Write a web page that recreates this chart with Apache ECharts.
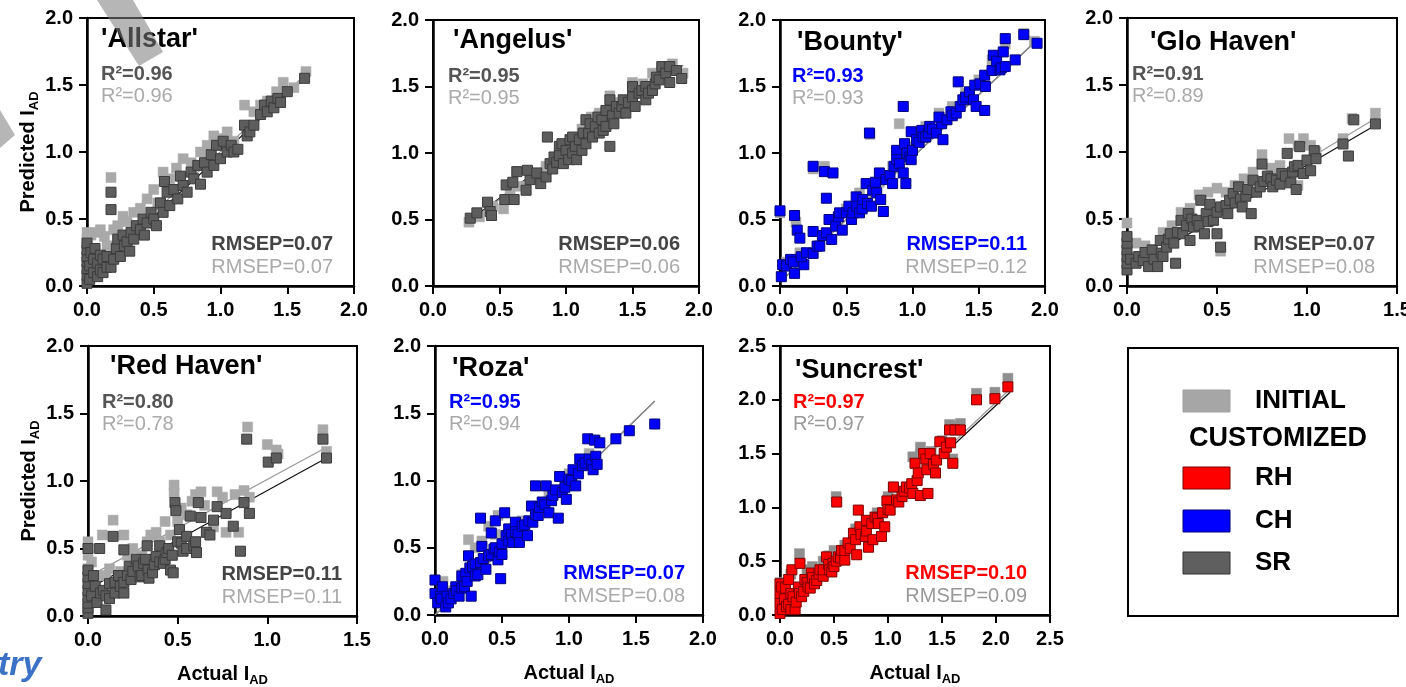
<!DOCTYPE html>
<html><head><meta charset="utf-8">
<script src="https://cdn.jsdelivr.net/npm/echarts@6/dist/echarts.min.js"></script>
<style>html,body{margin:0;padding:0;background:#fff}#c{width:1406px;height:687px}</style>
</head><body><div id="c"></div>
<script>
// ---------------- DATA ----------------
const panelNames = ["'Allstar'", "'Angelus'", "'Bounty'", "'Glo Haven'", "'Red Haven'", "'Roza'", "'Suncrest'"];
const modelType = ['SR', 'SR', 'CH', 'SR', 'SR', 'CH', 'RH'];
const r2Custom = ['0.96', '0.95', '0.93', '0.91', '0.80', '0.95', '0.97'];
const r2Initial = ['0.96', '0.95', '0.93', '0.89', '0.78', '0.94', '0.97'];
const rmsepCustom = ['0.07', '0.06', '0.11', '0.07', '0.11', '0.07', '0.10'];
const rmsepInitial = ['0.07', '0.06', '0.12', '0.08', '0.11', '0.08', '0.09'];
const xMax = [2, 2, 2, 1.5, 1.5, 2, 2.5];
const yMax = [2, 2, 2, 2, 2, 2, 2.5];
const tickStep = 0.5;
const legendLabels = ['INITIAL', 'CUSTOMIZED', 'RH', 'CH', 'SR'];

const allstarCustom = [[0,0.02],[0,0.08],[0,0.13],[0,0.18],[0,0.22],[0,0.27],[0,0.32],[0.02,0.05],[0.02,0.15],[0.03,0.25],[0.05,0.1],[0.05,0.2],[0.06,0.28],[0.08,0.07],[0.08,0.17],[0.1,0.12],[0.1,0.23],[0.12,0.1],[0.12,0.2],[0.15,0.14],[0.15,0.22],[0.18,0.57],[0.18,0.7],[0.18,0.14],[0.2,0.2],[0.22,0.28],[0.23,0.35],[0.25,0.22],[0.27,0.38],[0.28,0.3],[0.3,0.33],[0.32,0.26],[0.33,0.4],[0.35,0.35],[0.37,0.45],[0.4,0.42],[0.42,0.5],[0.43,0.38],[0.45,0.47],[0.48,0.55],[0.5,0.5],[0.52,0.45],[0.55,0.62],[0.57,0.55],[0.58,0.78],[0.6,0.7],[0.62,0.6],[0.65,0.72],[0.68,0.65],[0.7,0.82],[0.72,0.75],[0.75,0.7],[0.78,0.85],[0.8,0.8],[0.83,0.9],[0.85,0.76],[0.88,0.92],[0.9,0.85],[0.93,0.98],[0.95,0.9],[0.97,1.05],[1.0,0.95],[1.02,1.08],[1.05,1.0],[1.08,1.05],[1.1,1.0],[1.13,1.02],[1.18,1.2],[1.2,1.12],[1.22,1.15],[1.25,1.2],[1.3,1.28],[1.33,1.35],[1.35,1.3],[1.38,1.38],[1.4,1.33],[1.43,1.4],[1.45,1.37],[1.5,1.45],[1.63,1.55]];
const allstarInitial = [[0,0.35],[0,0.4],[0.03,0.38],[0.07,0.4],[0.1,0.42],[0.13,0.37],[0.15,0.3],[0.18,0.81],[0.2,0.42],[0.23,0.45],[0.27,0.52],[0.3,0.48],[0.35,0.55],[0.4,0.58],[0.45,0.65],[0.5,0.72],[0.53,0.62],[0.57,0.85],[0.62,0.8],[0.67,0.88],[0.72,0.95],[0.78,0.92],[0.85,1.0],[0.9,1.05],[0.95,1.12],[1.0,1.1],[1.05,1.15],[1.1,1.08],[1.18,1.35],[1.25,1.3],[1.3,1.35],[1.35,1.38],[1.42,1.45],[1.47,1.52],[1.55,1.48],[1.64,1.6]];

const angelusCustom = [[0.28,0.51],[0.33,0.55],[0.41,0.63],[0.43,0.56],[0.44,0.53],[0.54,0.65],[0.55,0.76],[0.6,0.78],[0.63,0.86],[0.61,0.65],[0.7,0.72],[0.73,0.8],[0.71,0.87],[0.78,0.85],[0.81,0.77],[0.86,1.12],[0.85,0.82],[0.88,0.92],[0.9,0.88],[0.91,0.97],[0.93,0.93],[0.95,1.05],[0.95,0.98],[0.97,1.07],[0.98,0.92],[1.0,1.02],[1.02,0.95],[1.03,1.1],[1.05,1.0],[1.05,1.12],[1.07,1.05],[1.08,0.95],[1.1,1.1],[1.12,1.02],[1.13,1.15],[1.15,1.07],[1.15,1.25],[1.17,1.15],[1.18,1.22],[1.2,1.12],[1.22,1.2],[1.24,1.27],[1.25,1.15],[1.27,1.25],[1.28,1.17],[1.3,1.32],[1.3,1.2],[1.33,1.05],[1.33,1.4],[1.35,1.28],[1.36,1.22],[1.38,1.35],[1.4,1.3],[1.42,1.35],[1.43,1.4],[1.45,1.3],[1.47,1.38],[1.5,1.5],[1.5,1.42],[1.52,1.35],[1.55,1.45],[1.57,1.47],[1.6,1.4],[1.6,1.5],[1.62,1.45],[1.65,1.47],[1.67,1.52],[1.68,1.57],[1.7,1.55],[1.72,1.65],[1.75,1.6],[1.78,1.65],[1.78,1.53],[1.83,1.62],[1.87,1.56]];
const angelusInitial = [[0.27,0.48],[0.35,0.52],[0.45,0.6],[0.53,0.58],[0.58,0.7],[0.65,0.75],[0.75,0.82],[0.85,0.9],[0.95,1.0],[1.05,1.08],[1.12,1.18],[1.19,1.27],[1.25,1.3],[1.33,1.43],[1.4,1.38],[1.5,1.53],[1.58,1.52],[1.65,1.6],[1.72,1.62],[1.8,1.67],[1.88,1.6]];

const bountyCustom = [[0,0.565],[0.01,0.07],[0.02,0.16],[0.05,0.15],[0.08,0.2],[0.1,0.18],[0.11,0.53],[0.11,0.095],[0.13,0.42],[0.15,0.36],[0.18,0.16],[0.16,0.22],[0.2,0.25],[0.25,0.9],[0.25,0.41],[0.25,0.245],[0.28,0.3],[0.3,0.3],[0.32,0.38],[0.335,0.86],[0.35,0.66],[0.4,0.85],[0.35,0.4],[0.37,0.5],[0.39,0.35],[0.42,0.45],[0.44,0.52],[0.45,0.55],[0.47,0.42],[0.5,0.55],[0.52,0.6],[0.54,0.5],[0.55,0.55],[0.575,0.67],[0.58,0.6],[0.6,0.55],[0.62,0.58],[0.625,0.65],[0.66,0.62],[0.675,1.15],[0.65,0.77],[0.69,0.6],[0.7,0.72],[0.72,0.78],[0.73,0.7],[0.75,0.85],[0.76,0.65],[0.78,0.56],[0.8,0.8],[0.83,0.83],[0.85,0.77],[0.86,0.9],[0.88,1.02],[0.88,0.95],[0.9,0.92],[0.93,1.35],[0.93,0.85],[0.95,0.77],[0.94,1.07],[0.96,1.0],[0.98,0.97],[0.99,1.16],[0.99,0.95],[1.0,1.02],[1.03,1.1],[1.05,1.08],[1.07,1.17],[1.08,1.12],[1.1,1.12],[1.12,1.15],[1.13,1.2],[1.15,1.18],[1.18,1.15],[1.22,1.22],[1.23,1.1],[1.2,1.27],[1.26,1.25],[1.29,1.31],[1.3,1.28],[1.33,1.3],[1.345,1.535],[1.36,1.35],[1.38,1.4],[1.4,1.42],[1.43,1.46],[1.46,1.4],[1.48,1.35],[1.47,1.51],[1.51,1.52],[1.55,1.5],[1.545,1.32],[1.545,1.585],[1.6,1.62],[1.61,1.735],[1.635,1.69],[1.66,1.625],[1.67,1.64],[1.685,1.76],[1.7,1.86],[1.7,1.65],[1.775,1.7],[1.84,1.89],[1.94,1.825]];
const bountyInitial = [[0,0.55],[0.05,0.18],[0.12,0.48],[0.15,0.25],[0.25,0.88],[0.335,0.9],[0.4,0.5],[0.5,0.58],[0.6,0.7],[0.68,1.14],[0.75,0.78],[0.85,0.9],[0.9,1.22],[0.93,1.35],[1.0,1.05],[1.1,1.2],[1.2,1.3],[1.3,1.35],[1.4,1.45],[1.5,1.55],[1.6,1.7],[1.7,1.82],[1.84,1.9],[1.92,1.84]];

const gloCustom = [[0,0.12],[0,0.17],[0,0.22],[0,0.27],[0,0.32],[0,0.37],[0.02,0.2],[0.05,0.17],[0.065,0.22],[0.09,0.19],[0.1,0.25],[0.12,0.145],[0.14,0.27],[0.15,0.2],[0.17,0.145],[0.185,0.34],[0.19,0.245],[0.2,0.22],[0.22,0.29],[0.23,0.35],[0.24,0.39],[0.27,0.17],[0.26,0.32],[0.28,0.4],[0.3,0.49],[0.31,0.39],[0.33,0.45],[0.34,0.54],[0.35,0.34],[0.36,0.5],[0.37,0.44],[0.39,0.49],[0.4,0.45],[0.41,0.64],[0.43,0.39],[0.44,0.54],[0.45,0.48],[0.46,0.61],[0.48,0.49],[0.5,0.39],[0.5,0.55],[0.52,0.29],[0.52,0.59],[0.55,0.6],[0.56,0.54],[0.57,0.64],[0.59,0.69],[0.6,0.62],[0.62,0.74],[0.63,0.65],[0.64,0.59],[0.66,0.67],[0.67,0.72],[0.69,0.54],[0.7,0.79],[0.72,0.7],[0.74,0.74],[0.75,0.91],[0.76,0.78],[0.78,0.82],[0.8,0.8],[0.81,0.74],[0.83,0.79],[0.85,0.76],[0.86,0.84],[0.88,0.82],[0.89,0.99],[0.91,0.77],[0.92,0.85],[0.93,0.89],[0.94,0.72],[0.95,0.9],[0.96,1.04],[0.98,0.84],[1.0,0.94],[1.02,0.86],[1.04,1.01],[1.05,0.95],[1.2,1.06],[1.23,0.97],[1.26,1.24],[1.38,1.21]];
const gloInitial = [[0,0.47],[0.05,0.32],[0.1,0.3],[0.2,0.4],[0.25,0.45],[0.3,0.55],[0.35,0.58],[0.4,0.68],[0.45,0.7],[0.5,0.73],[0.52,0.26],[0.55,0.7],[0.6,0.75],[0.65,0.8],[0.7,0.85],[0.75,0.98],[0.8,0.88],[0.85,0.9],[0.9,1.1],[0.95,1.05],[0.98,1.1],[1.02,1.05],[1.05,1.0],[1.2,1.1],[1.25,1.25],[1.38,1.29],[0.95,0.75]];

const redHavenCustom = [[0,0.02],[0,0.06],[0,0.095],[0,0.14],[0,0.19],[0,0.24],[0,0.29],[0,0.34],[0,0.5],[0.02,0.15],[0.03,0.3],[0.04,0.22],[0.05,0.1],[0.065,0.5],[0.07,0.17],[0.085,0.19],[0.1,0.045],[0.1,0.15],[0.12,0.24],[0.12,0.13],[0.14,0.59],[0.15,0.17],[0.15,0.25],[0.17,0.3],[0.18,0.22],[0.2,0.49],[0.2,0.17],[0.2,0.25],[0.22,0.3],[0.23,0.37],[0.24,0.27],[0.25,0.33],[0.27,0.42],[0.28,0.37],[0.29,0.29],[0.3,0.3],[0.31,0.39],[0.32,0.42],[0.33,0.52],[0.335,0.34],[0.34,0.28],[0.36,0.32],[0.37,0.38],[0.38,0.44],[0.4,0.52],[0.4,0.4],[0.42,0.39],[0.43,0.42],[0.44,0.47],[0.45,0.5],[0.46,0.34],[0.47,0.45],[0.475,0.32],[0.485,0.84],[0.49,0.78],[0.5,0.55],[0.51,0.64],[0.52,0.54],[0.53,0.48],[0.55,0.59],[0.55,0.5],[0.57,0.74],[0.59,0.52],[0.6,0.55],[0.605,0.47],[0.615,0.84],[0.63,0.73],[0.66,0.62],[0.68,0.6],[0.7,0.71],[0.72,0.81],[0.77,0.76],[0.81,0.665],[0.85,0.48],[0.87,0.84],[0.9,0.76],[0.885,1.31],[1.005,1.14],[1.05,1.17],[1.31,1.31],[1.33,1.17]];
const redHavenInitial = [[0,0.35],[0,0.45],[0,0.55],[0.02,0.4],[0.05,0.3],[0.08,0.6],[0.1,0.3],[0.12,0.35],[0.14,0.71],[0.18,0.33],[0.2,0.6],[0.22,0.45],[0.25,0.5],[0.3,0.45],[0.33,0.55],[0.35,0.6],[0.38,0.62],[0.4,0.55],[0.43,0.7],[0.46,0.6],[0.48,0.91],[0.48,0.97],[0.5,0.7],[0.52,0.8],[0.55,0.75],[0.58,0.85],[0.6,0.9],[0.63,0.92],[0.65,0.82],[0.7,0.66],[0.72,0.92],[0.75,0.88],[0.77,0.62],[0.82,0.9],[0.84,0.62],[0.87,0.93],[0.89,1.4],[0.9,0.88],[1.0,1.27],[1.05,1.23],[1.06,1.2],[1.31,1.38],[1.33,1.22]];

const rozaCustom = [[0,0.26],[0,0.16],[0.02,0.09],[0.04,0.14],[0.05,0.12],[0.055,0.21],[0.08,0.06],[0.09,0.14],[0.1,0.09],[0.12,0.12],[0.14,0.16],[0.155,0.21],[0.16,0.18],[0.18,0.14],[0.2,0.29],[0.2,0.2],[0.22,0.21],[0.23,0.31],[0.24,0.25],[0.25,0.44],[0.26,0.35],[0.27,0.14],[0.28,0.36],[0.3,0.29],[0.3,0.38],[0.32,0.3],[0.34,0.72],[0.34,0.39],[0.35,0.51],[0.36,0.42],[0.38,0.34],[0.4,0.44],[0.42,0.61],[0.42,0.45],[0.44,0.49],[0.45,0.7],[0.45,0.5],[0.47,0.41],[0.48,0.47],[0.49,0.27],[0.5,0.45],[0.52,0.76],[0.5,0.53],[0.53,0.59],[0.55,0.64],[0.55,0.55],[0.57,0.6],[0.58,0.54],[0.6,0.69],[0.6,0.62],[0.62,0.6],[0.63,0.54],[0.65,0.66],[0.67,0.67],[0.69,0.59],[0.7,0.7],[0.72,0.81],[0.73,0.69],[0.75,0.96],[0.75,0.75],[0.77,0.74],[0.78,0.8],[0.8,0.84],[0.82,0.82],[0.83,0.96],[0.85,0.76],[0.87,0.85],[0.88,0.89],[0.9,0.93],[0.92,0.72],[0.93,1.03],[0.95,0.91],[0.97,0.95],[0.98,0.86],[1.0,1.01],[1.02,1.0],[1.03,1.08],[1.05,0.96],[1.07,1.05],[1.08,1.16],[1.1,1.11],[1.12,1.13],[1.14,1.31],[1.15,1.16],[1.17,1.12],[1.18,1.08],[1.19,1.3],[1.2,1.18],[1.21,1.12],[1.23,1.28],[1.35,1.31],[1.45,1.37],[1.64,1.42]];
const rozaInitial = [[0.06,0.25],[0.1,0.18],[0.2,0.3],[0.25,0.56],[0.3,0.5],[0.35,0.55],[0.4,0.66],[0.45,0.6],[0.47,0.74],[0.55,0.6],[0.65,0.7],[0.75,0.8],[0.85,0.9],[1.0,1.05],[1.15,1.2],[1.2,1.3]];

const suncrestCustom = [[0,0.015],[0,0.11],[0,0.2],[0,0.29],[0.015,0.26],[0.02,0.05],[0.04,0.15],[0.05,0.25],[0.06,0.08],[0.08,0.33],[0.08,0.1],[0.1,0.05],[0.1,0.2],[0.11,0.42],[0.12,0.17],[0.14,0.05],[0.15,0.12],[0.17,0.26],[0.18,0.2],[0.185,0.48],[0.2,0.17],[0.22,0.22],[0.23,0.33],[0.25,0.3],[0.26,0.26],[0.28,0.25],[0.29,0.39],[0.3,0.35],[0.32,0.29],[0.34,0.32],[0.36,0.38],[0.37,0.42],[0.4,0.36],[0.4,0.42],[0.43,0.54],[0.45,0.47],[0.46,0.42],[0.48,0.4],[0.49,0.48],[0.5,0.45],[0.52,0.5],[0.525,1.05],[0.54,0.54],[0.56,0.53],[0.57,0.6],[0.6,0.51],[0.6,0.6],[0.63,0.67],[0.65,0.62],[0.68,0.76],[0.7,0.7],[0.71,0.56],[0.725,0.975],[0.74,0.82],[0.75,0.75],[0.79,0.73],[0.8,0.88],[0.8,0.78],[0.82,0.63],[0.85,0.85],[0.86,0.7],[0.88,0.91],[0.9,0.9],[0.91,0.85],[0.94,0.73],[0.95,0.95],[0.97,0.82],[0.99,1.06],[1.0,0.98],[1.02,0.975],[1.05,1.19],[1.08,1.07],[1.1,1.05],[1.13,1.1],[1.15,1.15],[1.17,1.19],[1.2,1.18],[1.22,1.22],[1.23,1.13],[1.25,1.41],[1.27,1.25],[1.28,1.32],[1.3,1.11],[1.33,1.5],[1.35,1.45],[1.36,1.35],[1.37,1.13],[1.39,1.5],[1.42,1.4],[1.44,1.32],[1.45,1.44],[1.48,1.61],[1.52,1.5],[1.54,1.56],[1.57,1.72],[1.58,1.6],[1.6,1.41],[1.62,1.72],[1.67,1.72],[1.82,2.0],[1.99,2.01],[2.11,2.12]];
const suncrestInitial = [[0,0.3],[0.05,0.3],[0.1,0.38],[0.18,0.57],[0.25,0.42],[0.3,0.45],[0.4,0.5],[0.45,0.55],[0.5,0.6],[0.52,1.1],[0.6,0.65],[0.7,0.8],[0.8,0.85],[0.9,0.95],[1.0,1.1],[1.05,1.18],[1.23,1.47],[1.3,1.56],[1.4,1.52],[1.5,1.62],[1.57,1.77],[1.6,1.45],[1.62,1.75],[1.67,1.78],[1.82,2.06],[1.99,2.07],[2.11,2.2]];

// regression lines: [[x0,y0],[x1,y1]]
const fitCustom = [[[0,0.06],[1.64,1.56]],[[0.28,0.5],[1.88,1.66]],[[0,0.03],[1.94,1.85]],[[0,0.12],[1.38,1.2]],[[0,0.2],[1.33,1.17]],[[0,0.0],[1.64,1.59]],[[0,0.07],[2.13,2.07]]];
const fitInitial = [[[0,0.1],[1.64,1.58]],[[0.28,0.49],[1.88,1.66]],[[0,0.03],[1.94,1.85]],[[0,0.13],[1.38,1.25]],[[0,0.29],[1.33,1.25]],[[0,0.0],[1.64,1.59]],[[0,0.08],[2.13,2.1]]];

const customSets = [allstarCustom, angelusCustom, bountyCustom, gloCustom, redHavenCustom, rozaCustom, suncrestCustom];
const initialSets = [allstarInitial, angelusInitial, bountyInitial, gloInitial, redHavenInitial, rozaInitial, suncrestInitial];

// ---------------- LAYOUT / STYLE ----------------
const FONT = '"Liberation Sans", Arial, sans-serif';
const boxes = [
  {l:87, t:18, w:267, h:268, tx:14, ty:22, rx:14, mx:21},
  {l:433, t:20, w:266, h:266, tx:20, ty:21, rx:15, mx:19},
  {l:780, t:20, w:265, h:266, tx:17, ty:23, rx:12, mx:18},
  {l:1127, t:18, w:270, h:268, tx:23, ty:25, rx:5, mx:22},
  {l:88, t:346, w:269, h:270, tx:22, ty:21, rx:14, mx:15},
  {l:435, t:346, w:268, h:269, tx:17, ty:23, rx:14, mx:18},
  {l:780, t:346, w:270, h:269, tx:15, ty:25, rx:13, mx:23}
];
const typeStyle = {
  SR: {fill:'#5d5d5d', border:'#3b3b3b', text:'#555555'},
  CH: {fill:'#0000ff', border:'#00007a', text:'#0000ff'},
  RH: {fill:'#ff0000', border:'#7a0000', text:'#ff0000'}
};
const initFill = ['#a9a9a9','#a9a9a9','#a9a9a9','#a9a9a9','#a9a9a9','#a9a9a9','#8f8f8f'];
const initText = ['#aaaaaa','#aaaaaa','#aaaaaa','#aaaaaa','#aaaaaa','#aaaaaa','#999999'];

const grids = [], xAxes = [], yAxes = [], series = [], graphics = [];
const subRich = {
  s: {fontSize: 13, fontWeight: 'bold', fontFamily: FONT, color: '#000', verticalAlign: 'bottom', padding: [12, 0, 0, 0]}
};
boxes.forEach((b, i) => {
  grids.push({left: b.l, top: b.t, width: b.w, height: b.h, show: true, borderColor: '#000', borderWidth: 2,
    backgroundColor: 'transparent', containLabel: false, outerBoundsMode: 'none'});
  const axisCommon = {
    type: 'value', gridIndex: i, min: 0, interval: tickStep,
    axisLine: {show: true, onZero: false, lineStyle: {color: '#000', width: 2.5}},
    axisTick: {show: true, length: 8, lineStyle: {color: '#000', width: 2}},
    splitLine: {show: false},
    axisLabel: {fontSize: 20, fontWeight: 'bold', fontFamily: FONT, color: '#000', margin: 14,
      formatter: v => v.toFixed(1)}
  };
  const xa = Object.assign({}, axisCommon, {max: xMax[i]});
  const ya = Object.assign({}, axisCommon, {max: yMax[i]});
  if (i >= 4) {
    xa.name = 'Actual I{s|AD}'; xa.nameLocation = 'middle'; xa.nameGap = 46;
    xa.nameTextStyle = {fontSize: 20, fontWeight: 'bold', fontFamily: FONT, color: '#000', rich: subRich};
  }
  if (i === 0 || i === 4) {
    ya.name = 'Predicted I{s|AD}'; ya.nameLocation = 'middle'; ya.nameGap = 46;
    ya.nameTextStyle = {fontSize: 20, fontWeight: 'bold', fontFamily: FONT, color: '#000', rich: subRich};
  }
  xAxes.push(xa); yAxes.push(ya);

  const ts = typeStyle[modelType[i]];
  series.push({type: 'line', xAxisIndex: i, yAxisIndex: i, data: fitCustom[i], symbol: 'none', silent: true,
    lineStyle: {color: '#111', width: 1.2}, z: 1});
  series.push({type: 'line', xAxisIndex: i, yAxisIndex: i, data: fitInitial[i], symbol: 'none', silent: true,
    lineStyle: {color: '#9a9a9a', width: 1.2}, z: 1});
  series.push({type: 'scatter', xAxisIndex: i, yAxisIndex: i, data: initialSets[i], symbol: 'rect', symbolSize: 10,
    itemStyle: {color: initFill[i], borderColor: initFill[i], borderWidth: 0.5, opacity: 1}, z: 2});
  series.push({type: 'scatter', xAxisIndex: i, yAxisIndex: i, data: customSets[i], symbol: 'rect', symbolSize: 10,
    itemStyle: {color: ts.fill, borderColor: ts.border, borderWidth: 1, opacity: 1}, z: 3});

  // annotations
  const txt = (x, y, text, font, fill, align) => ({type: 'text', x: x, y: y, z: 100,
    style: {text: text, font: font, fill: fill, align: align, textAlign: align, verticalAlign: 'middle', textVerticalAlign: 'middle'}});
  graphics.push(txt(b.l + b.tx, b.t + b.ty, panelNames[i], 'bold 27px ' + FONT, '#000', 'left'));
  graphics.push(txt(b.l + b.rx, b.t + 56, 'R\u00B2=' + r2Custom[i], 'bold 20px ' + FONT, ts.text, 'left'));
  graphics.push(txt(b.l + b.rx, b.t + 78, 'R\u00B2=' + r2Initial[i], '20px ' + FONT, initText[i], 'left'));
  const rmCol = modelType[i] === 'SR' ? '#444444' : ts.text;
  graphics.push(txt(b.l + b.w - b.mx, b.t + b.h - 42, 'RMSEP=' + rmsepCustom[i], 'bold 20px ' + FONT, rmCol, 'right'));
  graphics.push(txt(b.l + b.w - b.mx, b.t + b.h - 19, 'RMSEP=' + rmsepInitial[i], '20px ' + FONT, initText[i], 'right'));
});

// legend box
graphics.push({type: 'rect', shape: {x: 1128, y: 348, width: 270, height: 268}, z: 50,
  style: {fill: '#fff', stroke: '#000', lineWidth: 2}});
const swatches = [
  {y: 401, fill: '#a6a6a6', stroke: '#a0a0a0', label: legendLabels[0]},
  {y: 478, fill: '#ff0000', stroke: '#7a0000', label: legendLabels[2]},
  {y: 521, fill: '#0000ff', stroke: '#00007a', label: legendLabels[3]},
  {y: 563, fill: '#5f5f5f', stroke: '#333333', label: legendLabels[4]}
];
swatches.forEach(s => {
  graphics.push({type: 'rect', shape: {x: 1183, y: s.y - 11, width: 47, height: 22}, z: 51,
    style: {fill: s.fill, stroke: s.stroke, lineWidth: 1}});
  graphics.push({type: 'text', x: 1255, y: s.y, z: 51,
    style: {text: s.label, font: 'bold 26px ' + FONT, fill: '#000', align: 'left', textAlign: 'left', verticalAlign: 'middle', textVerticalAlign: 'middle'}});
});
graphics.push({type: 'text', x: 1278, y: 439, z: 51,
  style: {text: legendLabels[1], font: 'bold 27px ' + FONT, fill: '#000', align: 'center', textAlign: 'center', verticalAlign: 'middle', textVerticalAlign: 'middle'}});

// page decorations (watermark strokes and cut-off heading)
graphics.push({type: 'polygon', z: 200, shape: {points: [[97,0],[133,0],[163,52],[139,66]]},
  style: {fill: '#7c7c7c', opacity: 0.56}});
graphics.push({type: 'polygon', z: 200, shape: {points: [[0,110],[15,135],[0,148]]},
  style: {fill: '#7c7c7c', opacity: 0.56}});
graphics.push({type: 'text', x: -2, y: 666, z: 200,
  style: {text: 'try', font: 'italic bold 34px ' + FONT, fill: '#3b72c5', align: 'left', textAlign: 'left', verticalAlign: 'middle', textVerticalAlign: 'middle'}});

const chart = echarts.init(document.getElementById('c'), null, {renderer: 'canvas'});
chart.setOption({
  animation: false,
  backgroundColor: '#fff',
  grid: grids, xAxis: xAxes, yAxis: yAxes, series: series, graphic: graphics
});
</script></body></html>
